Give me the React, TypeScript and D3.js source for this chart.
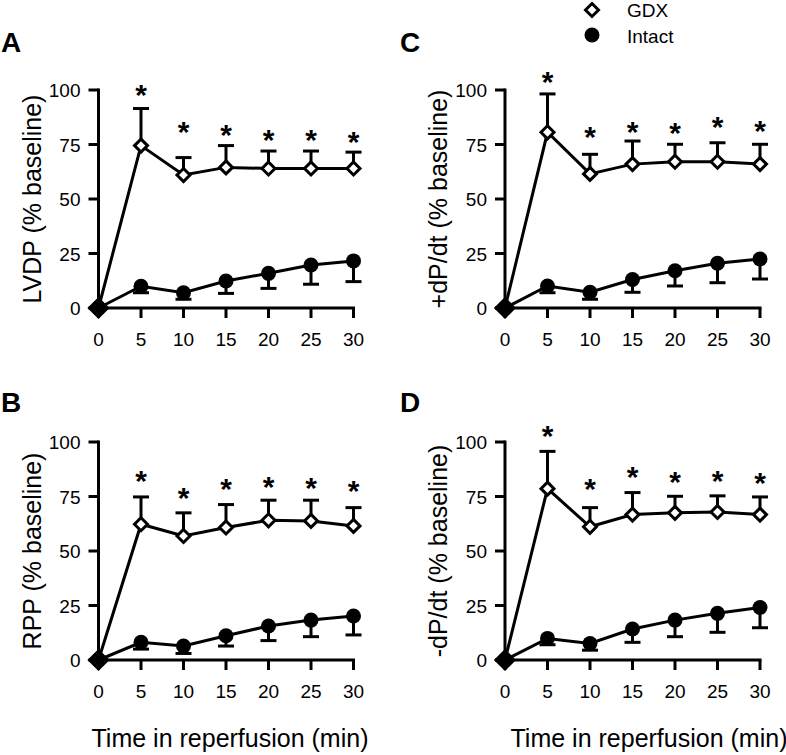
import React from "react";
import * as d3 from "d3";

const times = [0, 5, 10, 15, 20, 25, 30];
const xTicks = [0, 5, 10, 15, 20, 25, 30];
const yTicks = [0, 25, 50, 75, 100];

const lvdpGdx = [0, 74.5, 61, 64.5, 64, 64, 64];
const lvdpGdxUpper = [0, 91.5, 69, 74.5, 72, 72, 71.5];
const lvdpIntact = [0, 10, 7, 12.4, 15.9, 19.7, 21.6];
const lvdpIntactLower = [0, 7, 4, 6.7, 9, 10.9, 12.1];
const lvdpStars = [null, 100.8, 84, 82.4, 80.2, 80.2, 79.4];

const rppGdx = [0, 62.3, 56.9, 60.8, 64.1, 63.8, 61.5];
const rppGdxUpper = [0, 74.8, 67.5, 71.3, 73.3, 73.3, 69.9];
const rppIntact = [0, 8.1, 6.4, 11.1, 15.6, 18.3, 20.2];
const rppIntactLower = [0, 5, 3, 6.4, 8.9, 10.7, 11.5];
const rppStars = [null, 85.5, 77.6, 81.7, 82.4, 82.1, 80.6];

const posGdx = [0, 80.6, 61.5, 66, 67.1, 67.1, 66];
const posGdxUpper = [0, 98.2, 70.5, 76.6, 75.1, 75.8, 75.1];
const posIntact = [0, 10.1, 7.2, 13.1, 17.1, 20.5, 22.5];
const posIntactLower = [0, 7, 4, 7.2, 10.1, 11.6, 13.3];
const posStars = [null, 106.9, 81.7, 84, 83.5, 86.3, 84.5];

const negGdx = [0, 78.6, 61.1, 66.7, 67.5, 67.9, 66.7];
const negGdxUpper = [0, 95.7, 69.9, 76.8, 75.1, 75.3, 74.8];
const negIntact = [0, 9.9, 7.6, 14.2, 18.3, 21.4, 24.1];
const negIntactLower = [0, 7, 4.5, 8.1, 10.7, 12.7, 14.8];
const negStars = [null, 106.1, 81.7, 87, 84.7, 85.2, 84.3];

const panelLetters = ["A", "B", "C", "D"];
const yLabels = ["LVDP (% baseline)", "RPP (% baseline)", "+dP/dt (% baseline)", "-dP/dt (% baseline)"];
const xTitle = "Time in reperfusion (min)";
const legendLabels = ["GDX", "Intact"];

const FONT = "'Liberation Sans', Arial, Helvetica, sans-serif";
const SW = 3;

type PanelProps = {
  letter: string;
  yLabel: string;
  gdx: number[];
  gdxUpper: number[];
  intact: number[];
  intactLower: number[];
  stars: (number | null)[];
  left: number;
  top: number;
  letterX: number;
  letterY: number;
  titleX?: number;
};

function diamondPath(cx: number, cy: number, r: number) {
  return `M${cx},${cy - r}L${cx + r},${cy}L${cx},${cy + r}L${cx - r},${cy}Z`;
}

function Panel(p: PanelProps) {
  const x = d3.scaleLinear().domain([0, 30]).range([p.left, p.left + 255]);
  const y = d3.scaleLinear().domain([0, 100]).range([p.top + 218, p.top]);
  const line = d3
    .line<number>()
    .x((_, i) => x(times[i]))
    .y((d) => y(d));
  const capW = 8;
  const starFs = 30;
  return (
    <g>
      <text x={p.letterX} y={p.letterY} fontSize={28} fontWeight="bold" fontFamily={FONT}>
        {p.letter}
      </text>
      {/* axes */}
      <line x1={x(0)} x2={x(0)} y1={y(100)} y2={y(0)} stroke="#000" strokeWidth={SW} strokeLinecap="square" />
      <line x1={x(0)} x2={x(30)} y1={y(0)} y2={y(0)} stroke="#000" strokeWidth={SW} strokeLinecap="square" />
      {yTicks.map((t) => (
        <g key={"yt" + t}>
          <line x1={x(0) - 10} x2={x(0)} y1={y(t)} y2={y(t)} stroke="#000" strokeWidth={SW} />
          <text x={x(0) - 18} y={y(t) + 7} fontSize={19} textAnchor="end" fontFamily={FONT}>
            {t}
          </text>
        </g>
      ))}
      {xTicks.map((t) => (
        <g key={"xt" + t}>
          <line x1={x(t)} x2={x(t)} y1={y(0)} y2={y(0) + 10} stroke="#000" strokeWidth={SW} />
          <text x={x(t)} y={y(0) + 38} fontSize={19} textAnchor="middle" fontFamily={FONT}>
            {t}
          </text>
        </g>
      ))}
      <text
        transform={`translate(${x(0) - 58},${(y(0) + y(100)) / 2}) rotate(-90)`}
        fontSize={25}
        textAnchor="middle"
        fontFamily={FONT}
      >
        {p.yLabel}
      </text>
      {p.titleX !== undefined && (
        <text x={p.titleX} y={747} fontSize={25} textAnchor="middle" fontFamily={FONT}>
          {xTitle}
        </text>
      )}
      {/* error bars */}
      {times.map((t, i) =>
        p.gdxUpper[i] > p.gdx[i] ? (
          <g key={"ge" + i}>
            <line x1={x(t)} x2={x(t)} y1={y(p.gdx[i])} y2={y(p.gdxUpper[i])} stroke="#000" strokeWidth={SW} />
            <line x1={x(t) - capW} x2={x(t) + capW} y1={y(p.gdxUpper[i])} y2={y(p.gdxUpper[i])} stroke="#000" strokeWidth={SW} />
          </g>
        ) : null
      )}
      {times.map((t, i) =>
        p.intactLower[i] < p.intact[i] ? (
          <g key={"ie" + i}>
            <line x1={x(t)} x2={x(t)} y1={y(p.intact[i])} y2={y(p.intactLower[i])} stroke="#000" strokeWidth={SW} />
            <line x1={x(t) - capW} x2={x(t) + capW} y1={y(p.intactLower[i])} y2={y(p.intactLower[i])} stroke="#000" strokeWidth={SW} />
          </g>
        ) : null
      )}
      {/* lines */}
      <path d={line(p.gdx) || ""} fill="none" stroke="#000" strokeWidth={SW} />
      <path d={line(p.intact) || ""} fill="none" stroke="#000" strokeWidth={SW} />
      {/* markers */}
      {times.map((t, i) => {
        const overlap = p.gdx[i] === p.intact[i];
        return (
          <path
            key={"gm" + i}
            d={diamondPath(x(t), y(p.gdx[i]), overlap ? 9 : 6.5)}
            fill={overlap ? "#000" : "#fff"}
            stroke="#000"
            strokeWidth={SW}
          />
        );
      })}
      {times.map((t, i) => (
        <circle key={"im" + i} cx={x(t)} cy={y(p.intact[i])} r={7.5} fill="#000" />
      ))}
      {/* stars */}
      {times.map((t, i) =>
        p.stars[i] !== null ? (
          <text
            key={"s" + i}
            x={x(t)}
            y={y(p.stars[i] as number) + 0.57 * starFs}
            fontSize={starFs}
            fontWeight="bold"
            textAnchor="middle"
            fontFamily={FONT}
          >
            *
          </text>
        ) : null
      )}
    </g>
  );
}

export default function App() {
  return (
    <div style={{ position: "absolute", left: 0, top: 0 }}>
      <svg width={786} height={755} style={{ display: "block", background: "#fff" }}>
        <rect width={786} height={755} fill="#fff" />
        {/* legend */}
        <path d={diamondPath(592, 10, 6.5)} fill="#fff" stroke="#000" strokeWidth={SW} />
        <text x={627} y={17} fontSize={19} fontFamily={FONT}>
          {legendLabels[0]}
        </text>
        <circle cx={592} cy={35} r={7.5} fill="#000" />
        <text x={627} y={43} fontSize={19} fontFamily={FONT}>
          {legendLabels[1]}
        </text>
        <Panel
          letter={panelLetters[0]}
          yLabel={yLabels[0]}
          gdx={lvdpGdx}
          gdxUpper={lvdpGdxUpper}
          intact={lvdpIntact}
          intactLower={lvdpIntactLower}
          stars={lvdpStars}
          left={98.5}
          top={90}
          letterX={1}
          letterY={52}
        />
        <Panel
          letter={panelLetters[1]}
          yLabel={yLabels[1]}
          gdx={rppGdx}
          gdxUpper={rppGdxUpper}
          intact={rppIntact}
          intactLower={rppIntactLower}
          stars={rppStars}
          left={98.5}
          top={442}
          letterX={1}
          letterY={412}
          titleX={230}
        />
        <Panel
          letter={panelLetters[2]}
          yLabel={yLabels[2]}
          gdx={posGdx}
          gdxUpper={posGdxUpper}
          intact={posIntact}
          intactLower={posIntactLower}
          stars={posStars}
          left={505}
          top={90}
          letterX={400}
          letterY={52}
        />
        <Panel
          letter={panelLetters[3]}
          yLabel={yLabels[3]}
          gdx={negGdx}
          gdxUpper={negGdxUpper}
          intact={negIntact}
          intactLower={negIntactLower}
          stars={negStars}
          left={505}
          top={442}
          letterX={400}
          letterY={412}
          titleX={649}
        />
      </svg>
    </div>
  );
}
